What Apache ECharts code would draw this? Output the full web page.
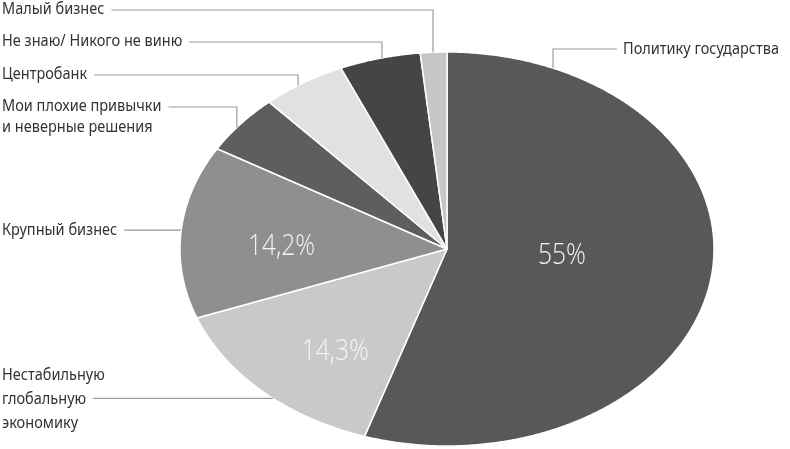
<!DOCTYPE html>
<html><head><meta charset="utf-8">
<script src="https://cdn.jsdelivr.net/npm/echarts@6/dist/echarts.min.js"></script>
<style>html,body{margin:0;padding:0;background:#fff}#c{width:790px;height:449px}</style>
</head><body><div id="c"></div>
<script>
// ---- data ----
const categories = ['Политику государства', 'Нестабильную\nглобальную\nэкономику', 'Крупный бизнес',
  'Мои плохие привычки\nи неверные решения', 'Центробанк', 'Не знаю/ Никого не виню', 'Малый бизнес'];
const values = [55, 14.3, 14.2, 4.9, 5.1, 4.9, 1.6];
const valueLabels = ['55%', '14,3%', '14,2%', '', '', '', ''];

// ---- style / layout ----
const colors = ['#58585a', '#c9c9ca', '#8f8f91', '#5e5e60', '#e1e1e2', '#454546', '#c6c6c7'];
const CX = 447, CY = 249, RX = 267, RY = 197;
const FONT = "'Noto Sans', sans-serif";
const PCT_FONT = "'Open Sans', 'Noto Sans', sans-serif";
const LABEL_SIZE = 16.5, LABEL_SX = 0.88, PCT_SIZE = 30, PCT_SX = 0.82;
// text anchor, leader attach angle (deg, clockwise from top), elbow y (null = straight)
const labelLayout = [
  { tx: 779, ty: 49, lineY: 49, angle: 23.4, lineIdx: 0, lh: 22, right: true },
  { tx: 2, ty: 399, lineY: null, angle: 220.7, lineIdx: 1, lh: 24 },
  { tx: 2, ty: 230, lineY: null, angle: 275.5, lineIdx: 0, lh: 22 },
  { tx: 2, ty: 117, lineY: 107, angle: 308.1, lineIdx: 0, lh: 21 },
  { tx: 2, ty: 74, lineY: 75, angle: 326.1, lineIdx: 0, lh: 22 },
  { tx: 2, ty: 41, lineY: 42, angle: 345.9, lineIdx: 0, lh: 22 },
  { tx: 2, ty: 9, lineY: 10, angle: 357.0, lineIdx: 0, lh: 22 }
];
const pctLayout = [
  { angle: 94.4, r: 0.432 }, { angle: 218.9, r: 0.666 }, { angle: 271.4, r: 0.62 },
  null, null, null, null
];

const total = values.reduce((a, b) => a + b, 0);
const starts = [];
values.reduce((acc, v, i) => { starts[i] = acc; return acc + v; }, 0);

function pt(deg, f) {
  const a = deg * Math.PI / 180;
  return [CX + RX * f * Math.sin(a), CY - RY * f * Math.cos(a)];
}
const mctx = document.createElement('canvas').getContext('2d');
function textW(s, size) { mctx.font = size + 'px ' + FONT; return mctx.measureText(s).width; }

const chart = echarts.init(document.getElementById('c'), null, { renderer: 'canvas' });
chart.setOption({
  animation: false,
  backgroundColor: '#ffffff',
  series: [{
    type: 'custom',
    coordinateSystem: 'none',
    data: values.map((v, i) => ({ value: v, name: categories[i] })),
    renderItem: function (params, api) {
      const i = params.dataIndex;
      const v = api.value(0);
      const a0 = starts[i] / total * 360, a1 = (starts[i] + v) / total * 360;
      const pts = [[CX, CY]];
      const n = Math.max(2, Math.ceil((a1 - a0) / 0.5));
      for (let k = 0; k <= n; k++) pts.push(pt(a0 + (a1 - a0) * k / n, 1));
      const children = [{
        type: 'polygon', shape: { points: pts },
        style: { fill: colors[i], stroke: '#ffffff', lineWidth: 1.5, lineJoin: 'round' }
      }];
      // leader + label
      const L = labelLayout[i];
      const att = pt(L.angle, 1);
      const lines = categories[i].split('\n');
      const lineY = L.lineY == null ? att[1] : L.lineY;
      const w = textW(lines[L.lineIdx], LABEL_SIZE) * LABEL_SX;
      let linePts;
      if (L.right) {
        linePts = [[L.tx - w - 6, lineY], [att[0], lineY], att];
      } else {
        const sx = L.tx + w + 7;
        linePts = L.lineY == null ? [[sx, lineY], att] : [[sx, lineY], [att[0], lineY], att];
      }
      children.push({
        type: 'polyline', shape: { points: linePts },
        style: { stroke: '#9a9a9b', lineWidth: 1.2, fill: null }
      });
      children.push({
        type: 'text', x: L.tx, y: L.ty, scaleX: LABEL_SX,
        style: {
          x: 0, y: 0, text: categories[i], fill: '#333335',
          fontSize: LABEL_SIZE, fontFamily: FONT, lineHeight: L.lh,
          align: L.right ? 'right' : 'left', verticalAlign: 'middle'
        }
      });
      const P = pctLayout[i];
      if (P && valueLabels[i]) {
        const c = pt(P.angle, P.r);
        children.push({
          type: 'text', x: c[0], y: c[1], scaleX: PCT_SX,
          style: {
            x: 0, y: 0, text: valueLabels[i], fill: '#f4f4f4',
            fontSize: PCT_SIZE, fontFamily: PCT_FONT, fontWeight: 350,
            align: 'center', verticalAlign: 'middle'
          }
        });
      }
      return { type: 'group', children: children };
    }
  }]
});
</script></body></html>
